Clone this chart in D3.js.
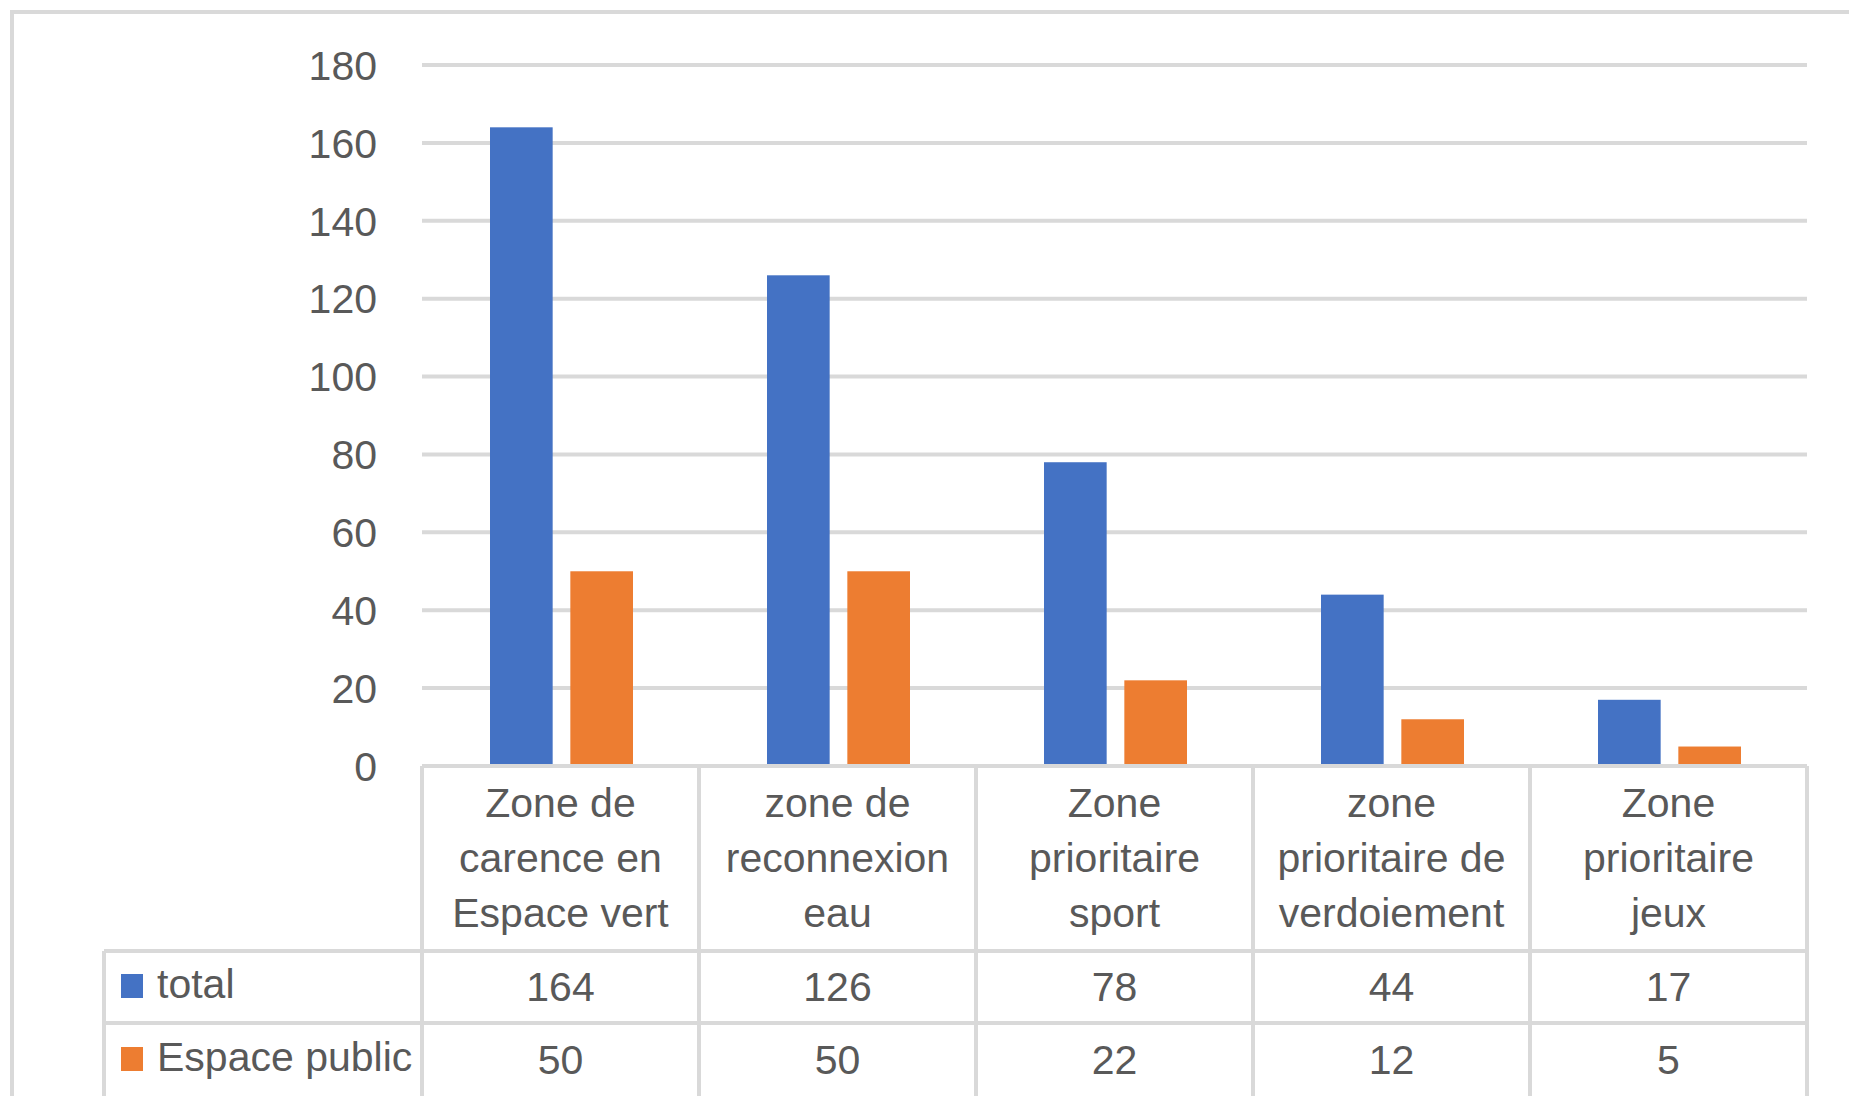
<!DOCTYPE html>
<html>
<head>
<meta charset="utf-8">
<script src="https://cdn.jsdelivr.net/npm/d3@7"></script>
<style>
  body { margin: 0; background: #fff; }
  text { font-family: "Liberation Sans", Arial, sans-serif; fill: #595959; }
</style>
</head>
<body>
<div id="chart"></div>
<script>
const categories = [
  "Zone de carence en Espace vert",
  "zone de reconnexion eau",
  "Zone prioritaire sport",
  "zone prioritaire de verdoiement",
  "Zone prioritaire jeux"
];
const labelLines = [
  ["Zone de", "carence en", "Espace vert"],
  ["zone de", "reconnexion", "eau"],
  ["Zone", "prioritaire", "sport"],
  ["zone", "prioritaire de", "verdoiement"],
  ["Zone", "prioritaire", "jeux"]
];
const seriesNames = ["total", "Espace public"];
const total = [164, 126, 78, 44, 17];
const espacePublic = [50, 50, 22, 12, 5];
const yTicks = [0, 20, 40, 60, 80, 100, 120, 140, 160, 180];
const colors = ["#4472C4", "#ED7D31"];

const width = 1849;
const height = 1096;
const fs = 41;
const gridColor = "#d9d9d9";

const svg = d3.select("#chart").append("svg")
  .attr("width", width)
  .attr("height", height);

// outer frame (cut on right and bottom)
svg.append("path")
  .attr("d", `M12,${height + 10} L12,12 L${width + 10},12`)
  .attr("fill", "none")
  .attr("stroke", gridColor)
  .attr("stroke-width", 4);

const x0 = d3.scaleBand()
  .domain(categories)
  .range([422, 1807]);

const x1 = d3.scaleBand()
  .domain(seriesNames)
  .range([68, x0.bandwidth() - 66])
  .paddingInner(0.22);

const y = d3.scaleLinear()
  .domain([0, 180])
  .range([766, 65]);

// gridlines
svg.append("g")
  .selectAll("line")
  .data(yTicks.filter(t => t > 0))
  .enter()
  .append("line")
  .attr("x1", x0.range()[0])
  .attr("x2", x0.range()[1])
  .attr("y1", d => y(d))
  .attr("y2", d => y(d))
  .attr("stroke", gridColor)
  .attr("stroke-width", 4);

// y labels
svg.append("g")
  .selectAll("text")
  .data(yTicks)
  .enter()
  .append("text")
  .attr("x", 377)
  .attr("y", d => y(d))
  .attr("dy", "0.36em")
  .attr("text-anchor", "end")
  .attr("font-size", fs)
  .text(d => d);

// bars
const rows = categories.map((c, i) => ({ cat: c, values: [total[i], espacePublic[i]] }));

const groups = svg.append("g")
  .selectAll("g")
  .data(rows)
  .enter()
  .append("g")
  .attr("transform", d => `translate(${x0(d.cat)},0)`);

groups.selectAll("rect")
  .data(d => d.values.map((v, j) => ({ key: seriesNames[j], v: v, j: j })))
  .enter()
  .append("rect")
  .attr("x", d => x1(d.key))
  .attr("y", d => y(d.v))
  .attr("width", x1.bandwidth())
  .attr("height", d => y(0) - y(d.v))
  .attr("fill", d => colors[d.j]);

// data table
const tableTop = y(0);
const rowLines = [tableTop, 951, 1023];
const tableLeft = 104;
const table = svg.append("g")
  .attr("stroke", gridColor)
  .attr("stroke-width", 4);

rowLines.forEach((ly, i) => {
  table.append("line")
    .attr("x1", i === 0 ? x0.range()[0] : tableLeft)
    .attr("x2", x0.range()[1])
    .attr("y1", ly)
    .attr("y2", ly);
});

const colEdges = categories.map(c => x0(c)).concat([x0.range()[1]]);
colEdges.forEach(cx => {
  table.append("line")
    .attr("x1", cx).attr("x2", cx)
    .attr("y1", tableTop).attr("y2", height + 5);
});
table.append("line")
  .attr("x1", tableLeft).attr("x2", tableLeft)
  .attr("y1", 951).attr("y2", height + 5);

// category labels
const labels = svg.append("g")
  .selectAll("text")
  .data(categories)
  .enter()
  .append("text")
  .attr("text-anchor", "middle")
  .attr("font-size", fs)
  .attr("x", d => x0(d) + x0.bandwidth() / 2);

labels.selectAll("tspan")
  .data((d, i) => labelLines[i])
  .enter()
  .append("tspan")
  .attr("x", function() { return d3.select(this.parentNode).attr("x"); })
  .attr("y", (d, k) => 802 + k * 55)
  .attr("dy", "0.36em")
  .text(d => d);

// table values
const seriesData = [total, espacePublic];
const rowCenters = [986, 1059];
seriesData.forEach((vals, r) => {
  svg.append("g")
    .selectAll("text")
    .data(vals)
    .enter()
    .append("text")
    .attr("x", (d, i) => x0(categories[i]) + x0.bandwidth() / 2)
    .attr("y", rowCenters[r])
    .attr("dy", "0.36em")
    .attr("text-anchor", "middle")
    .attr("font-size", fs)
    .text(d => d);

  svg.append("rect")
    .attr("x", 121)
    .attr("y", rowCenters[r] - 12)
    .attr("width", 22)
    .attr("height", 24)
    .attr("fill", colors[r]);

  svg.append("text")
    .attr("x", 157)
    .attr("y", rowCenters[r] - 3)
    .attr("dy", "0.36em")
    .attr("font-size", fs)
    .text(seriesNames[r]);
});
</script>
</body>
</html>
